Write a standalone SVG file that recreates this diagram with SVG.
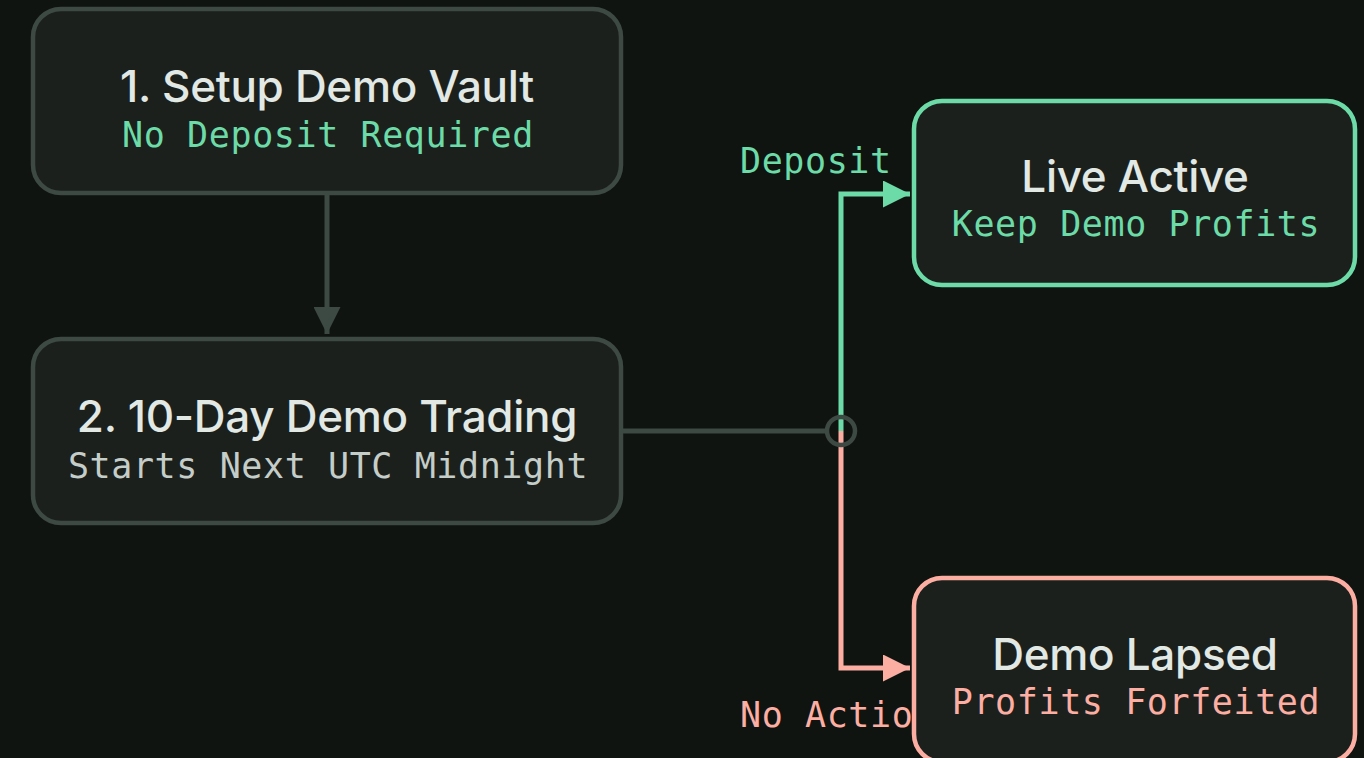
<svg xmlns="http://www.w3.org/2000/svg" width="1364" height="758" viewBox="0 0 1364 758">
<defs>
<style>
.node{fill:#1b201d;stroke-width:4.5}
.gray{stroke:#3d4943}
.green{stroke:#6cdba7}
.pink{stroke:#fdaea3}
.title{font-family:Inter,"Liberation Sans",sans-serif;font-size:44px;font-weight:500;letter-spacing:-0.3px;fill:#e2e8e3;text-anchor:middle}
.sub{font-family:"DejaVu Sans Mono","Liberation Mono",monospace;font-size:35px;letter-spacing:0.6px;text-anchor:middle}
.lbl{font-family:"DejaVu Sans Mono","Liberation Mono",monospace;font-size:35px;letter-spacing:0.6px}
.line{fill:none;stroke-width:5}
</style>
<marker id="ag" viewBox="0 0 10 10" refX="10" refY="5" markerWidth="27" markerHeight="27" markerUnits="userSpaceOnUse" orient="auto"><path d="M0,0L10,5L0,10z" fill="#3d4943"/></marker>
<marker id="agr" viewBox="0 0 10 10" refX="10" refY="5" markerWidth="27" markerHeight="27" markerUnits="userSpaceOnUse" orient="auto"><path d="M0,0L10,5L0,10z" fill="#6cdba7"/></marker>
<marker id="apk" viewBox="0 0 10 10" refX="10" refY="5" markerWidth="27" markerHeight="27" markerUnits="userSpaceOnUse" orient="auto"><path d="M0,0L10,5L0,10z" fill="#fdaea3"/></marker>
</defs>
<rect width="1364" height="758" fill="#0f1411"/>
<g id="connectors">
<path class="line gray" d="M327,193V334" marker-end="url(#ag)"/>
<path class="line gray" d="M621,431H827"/>
<path class="line green" d="M841,431V194H910" marker-end="url(#agr)"/>
<path class="line pink" d="M841,431V668H910" marker-end="url(#apk)"/>
<circle cx="841" cy="431" r="14" fill="none" stroke="#3d4943" stroke-width="4.5"/>
<text class="lbl" x="740" y="173" fill="#6cdba7">Deposit</text>
<text class="lbl" x="740" y="727" fill="#fdaea3">No Action</text>
</g>
<g id="setup">
<rect class="node gray" x="33" y="9" width="588" height="184" rx="28"/>
<text class="title" x="327" y="102">1. Setup Demo Vault</text>
<text class="sub" x="328" y="147" fill="#6cdba7">No Deposit Required</text>
</g>
<g id="trading">
<rect class="node gray" x="33" y="339" width="588" height="184" rx="28"/>
<text class="title" x="327" y="432">2. 10-Day Demo Trading</text>
<text class="sub" x="328" y="478" fill="#c5cdc8">Starts Next UTC Midnight</text>
</g>
<g id="live">
<rect class="node green" x="914" y="101" width="441" height="184" rx="28"/>
<text class="title" x="1135" y="192">Live Active</text>
<text class="sub" x="1136" y="236" fill="#6cdba7">Keep Demo Profits</text>
</g>
<g id="lapsed">
<rect class="node pink" x="914" y="578" width="441" height="184" rx="28"/>
<text class="title" x="1135" y="670">Demo Lapsed</text>
<text class="sub" x="1136" y="714" fill="#fdaea3">Profits Forfeited</text>
</g>
</svg>
